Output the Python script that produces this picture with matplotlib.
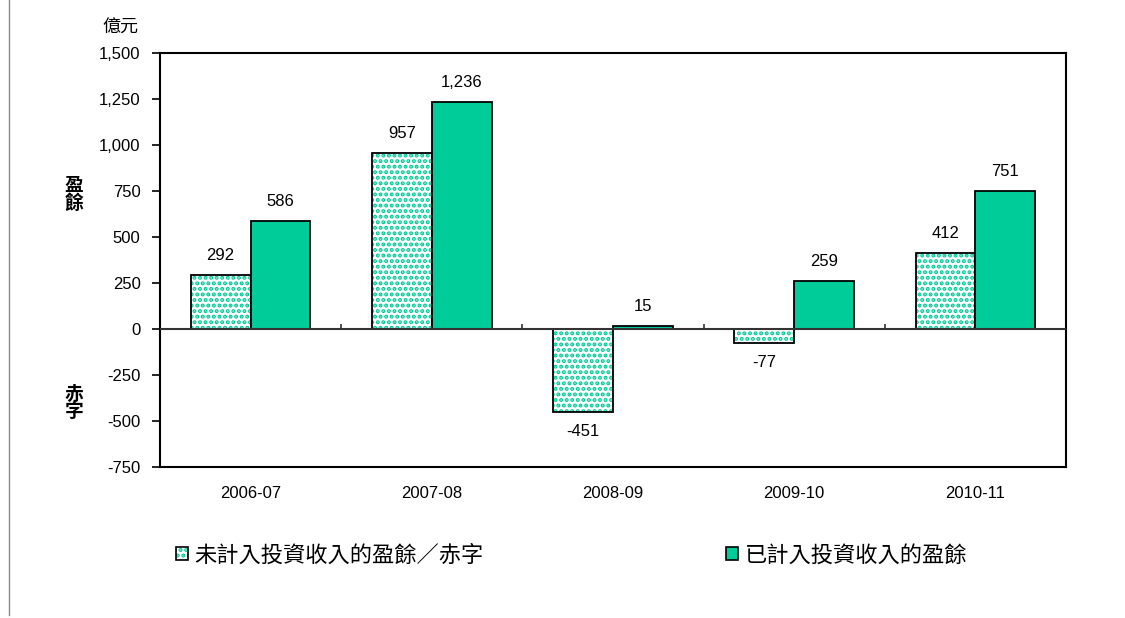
import matplotlib
matplotlib.use("Agg")
import matplotlib.pyplot as plt
from matplotlib.lines import Line2D
from matplotlib.patches import Patch
import numpy as np

plt.rcParams['font.family'] = ['Liberation Sans', 'Noto Sans CJK TC', 'DejaVu Sans']
plt.rcParams['hatch.linewidth'] = 2.0

categories = ['2006-07', '2007-08', '2008-09', '2009-10', '2010-11']
before_invest = [292, 957, -451, -77, 412]
after_invest = [586, 1236, 15, 259, 751]
yticks = [-750, -500, -250, 0, 250, 500, 750, 1000, 1250, 1500]
legend_labels = ['未計入投資收入的盈餘／赤字', '已計入投資收入的盈餘']

green = '#00CC99'
fig = plt.figure(figsize=(11.25, 6.18), dpi=100)
ax = fig.add_axes([0.1422, 0.2443, 0.8053, 0.6699])

x = np.arange(len(categories))
w = 0.33
# hatched (dotted) bars
ax.bar(x - w / 2, before_invest, w, facecolor='white', edgecolor=green,
       hatch='...', linewidth=0, zorder=2)
ax.bar(x - w / 2, before_invest, w, facecolor='none', edgecolor='black',
       linewidth=1.3, zorder=3)
ax.bar(x + w / 2, after_invest, w, facecolor=green, edgecolor='black',
       linewidth=1.3, zorder=3)

for xi, v in zip(x - w / 2, before_invest):
    ax.annotate(f'{v:,}', (xi, v), xytext=(0, 14 if v >= 0 else -14),
                textcoords='offset points', ha='center', va='center', fontsize=12)
for xi, v in zip(x + w / 2, after_invest):
    ax.annotate(f'{v:,}', (xi, v), xytext=(0, 14 if v >= 0 else -14),
                textcoords='offset points', ha='center', va='center', fontsize=12)

ax.axhline(0, color='#333333', linewidth=1.5, zorder=4)
ax.vlines(x[:-1] + 0.5, 0, 28, color='#333333', linewidth=1.2, zorder=4)

ax.set_xlim(-0.5, len(categories) - 0.5)
ax.set_ylim(-750, 1500)
ax.set_yticks(yticks)
ax.set_yticklabels([f'{t:,}' for t in yticks], fontsize=12)
ax.set_xticks(x)
ax.set_xticklabels(categories, fontsize=12)
ax.tick_params(axis='x', length=0, pad=14)
ax.tick_params(axis='y', direction='out', length=6, width=1.2, pad=8)
for s in ax.spines.values():
    s.set_linewidth(1.5)
    s.set_color('black')

fig.text(0.107, 0.955, '億元', fontsize=13, ha='center', va='center',
         family=['Noto Sans CJK TC'])
fig.text(0.066, 0.685, '盈\n餘', fontsize=13.5, ha='center', va='center',
         fontweight='bold', family=['Noto Sans CJK TC'], linespacing=0.9)
fig.text(0.066, 0.348, '赤\n字', fontsize=13.5, ha='center', va='center',
         fontweight='bold', family=['Noto Sans CJK TC'], linespacing=0.9)

fig.add_artist(Line2D([0.008, 0.008], [0.005, 1.0], color='#888888', linewidth=1.0))

h1 = Patch(facecolor='white', edgecolor=green, hatch='...', linewidth=0)
h1b = Patch(facecolor='none', edgecolor='black', linewidth=1.2)
h2 = Patch(facecolor=green, edgecolor='black', linewidth=1.2)
leg = fig.legend([(h1, h1b), h2], legend_labels, loc='center',
                 bbox_to_anchor=(0.508, 0.102), ncol=2, frameon=False,
                 prop={'family': ['Noto Sans CJK TC'], 'size': 16},
                 handlelength=0.55, handleheight=0.55, handletextpad=0.3,
                 columnspacing=10.9)

fig.savefig('out.png', dpi=100)
